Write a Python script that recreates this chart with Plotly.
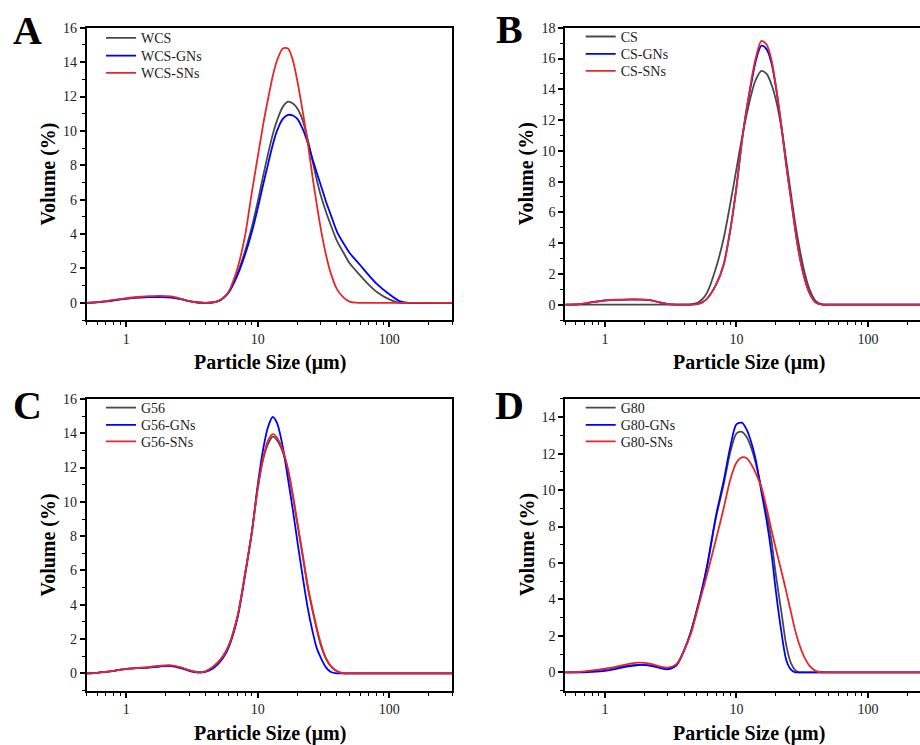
import math
import plotly.graph_objects as go

FONT = "Liberation Serif"

# Particle size grid (µm)
SIZE = [0.5, 0.6, 0.7, 0.8, 1.0, 1.2, 1.5, 1.8, 2.2, 2.6, 3.0, 3.5, 4.0, 4.5, 5.0, 5.5,
        6.0, 7.0, 8.0, 9.0, 10, 11, 12, 13, 14, 15.5, 17, 18.5, 20, 22, 24, 26, 28, 30,
        33, 36, 40, 45, 50, 60, 70, 80, 100, 120, 140, 200, 300]

# Panel A
A_WCS = [0, 0.04, 0.09, 0.15, 0.25, 0.31, 0.35, 0.36, 0.33, 0.22, 0.1, 0.02, 0, 0.02, 0.1, 0.3,
         0.6, 1.7, 3.0, 4.4, 5.9, 7.4, 8.7, 9.8, 10.6, 11.4, 11.7, 11.6, 11.3, 10.6, 9.5, 8.3, 7.2, 6.3,
         5.3, 4.5, 3.6, 2.9, 2.3, 1.6, 1.05, 0.65, 0.2, 0, 0, 0, 0]
A_WCS_GNs = [0, 0.03, 0.08, 0.14, 0.24, 0.3, 0.33, 0.34, 0.31, 0.21, 0.1, 0.02, 0, 0.02, 0.1, 0.3,
             0.6, 1.6, 2.8, 4.1, 5.5, 6.9, 8.1, 9.2, 10.0, 10.7, 10.93, 10.9, 10.7, 10.1, 9.3, 8.4, 7.6, 6.9,
             5.9, 5.1, 4.15, 3.45, 2.9, 2.2, 1.6, 1.12, 0.5, 0.1, 0, 0, 0]
A_WCS_SNs = [0, 0.04, 0.1, 0.17, 0.27, 0.34, 0.39, 0.41, 0.37, 0.24, 0.1, 0.02, 0, 0.02, 0.1, 0.3,
             0.65, 2.0, 3.9, 6.4, 8.5, 10.4, 11.9, 13.2, 14.1, 14.8, 14.8, 14.1, 12.9, 11.1, 9.3, 7.4, 5.8, 4.4,
             2.8, 1.7, 0.8, 0.3, 0.07, 0, 0, 0, 0, 0, 0, 0, 0]

# Panel B
B_CS = [0, 0, 0, 0, 0, 0, 0, 0, 0, 0, 0, 0, 0, 0.02, 0.1, 0.35,
        0.8, 2.4, 4.3, 6.6, 8.8, 10.8, 12.4, 13.7, 14.6, 15.2, 15.0, 14.3, 13.3, 11.5, 9.3, 7.2, 5.3, 3.8,
        2.1, 1.0, 0.25, 0.02, 0, 0, 0, 0, 0, 0, 0, 0, 0]
B_CS_GNs = [0, 0.01, 0.07, 0.16, 0.27, 0.31, 0.33, 0.33, 0.29, 0.15, 0.04, 0, 0, 0, 0.03, 0.15,
            0.4, 1.3, 2.6, 4.9, 7.6, 10.6, 12.8, 14.4, 15.8, 16.84, 16.6, 15.7, 14.1, 11.6, 9.0, 6.9, 4.9, 3.3,
            1.7, 0.75, 0.15, 0, 0, 0, 0, 0, 0, 0, 0, 0, 0]
B_CS_SNs = [0, 0.01, 0.08, 0.17, 0.28, 0.32, 0.34, 0.34, 0.3, 0.16, 0.04, 0, 0, 0, 0.03, 0.15,
            0.4, 1.3, 2.6, 4.9, 7.6, 10.6, 12.8, 14.6, 16.0, 17.15, 16.9, 15.9, 14.2, 11.6, 9.0, 6.9, 4.9, 3.3,
            1.7, 0.75, 0.15, 0, 0, 0, 0, 0, 0, 0, 0, 0, 0]

# Panel C
C_G56 = [0, 0.03, 0.09, 0.15, 0.26, 0.31, 0.36, 0.42, 0.44, 0.33, 0.18, 0.07, 0.12, 0.35, 0.65, 1.05,
         1.6, 3.3, 5.8, 8.2, 10.8, 12.5, 13.4, 13.8, 13.6, 12.9, 11.8, 10.3, 8.7, 6.8, 5.0, 3.7, 2.6, 1.7,
         0.85, 0.4, 0.12, 0, 0, 0, 0, 0, 0, 0, 0, 0, 0]
C_G56_GNs = [0, 0.03, 0.09, 0.15, 0.26, 0.3, 0.34, 0.4, 0.42, 0.3, 0.15, 0.05, 0.08, 0.25, 0.55, 0.95,
             1.5, 3.2, 5.7, 8.2, 11.0, 13.1, 14.4, 14.95, 14.6, 13.2, 11.3, 9.5, 7.7, 5.6, 3.8, 2.5, 1.5, 0.95,
             0.35, 0.08, 0, 0, 0, 0, 0, 0, 0, 0, 0, 0, 0]
C_G56_SNs = [0, 0.03, 0.09, 0.15, 0.26, 0.31, 0.37, 0.44, 0.47, 0.35, 0.19, 0.07, 0.12, 0.35, 0.65, 1.05,
             1.6, 3.3, 5.8, 8.2, 10.8, 12.6, 13.6, 13.95, 13.75, 13.0, 11.9, 10.4, 8.8, 6.9, 5.1, 3.8, 2.7, 1.8,
             0.9, 0.42, 0.13, 0, 0, 0, 0, 0, 0, 0, 0, 0, 0]

# Panel D
D_G80 = [0, 0, 0.02, 0.07, 0.17, 0.26, 0.36, 0.41, 0.38, 0.27, 0.2, 0.4, 1.2, 2.2, 3.4, 4.6,
         5.8, 8.5, 10.3, 12.1, 13.1, 13.2, 12.9, 12.3, 11.5, 10.1, 8.7, 7.2, 5.3, 3.3, 1.45, 0.5, 0.12, 0,
         0, 0, 0, 0, 0, 0, 0, 0, 0, 0, 0, 0, 0]
D_G80_GNs = [0, 0, 0, 0.02, 0.08, 0.18, 0.32, 0.4, 0.37, 0.24, 0.16, 0.38, 1.2, 2.2, 3.4, 4.6,
             5.9, 8.6, 10.5, 12.4, 13.6, 13.7, 13.3, 12.6, 11.7, 9.9, 8.3, 6.5, 4.4, 2.2, 0.65, 0.15, 0, 0,
             0, 0, 0, 0, 0, 0, 0, 0, 0, 0, 0, 0, 0]
D_G80_SNs = [0, 0.01, 0.05, 0.1, 0.2, 0.3, 0.45, 0.53, 0.48, 0.33, 0.26, 0.45, 1.2, 2.1, 3.3, 4.4,
             5.4, 7.3, 9.0, 10.6, 11.5, 11.8, 11.75, 11.4, 10.95, 10.15, 9.0, 7.8, 6.75, 5.55, 4.4, 3.3, 2.3, 1.55,
             0.8, 0.35, 0.08, 0, 0, 0, 0, 0, 0, 0, 0, 0, 0]

X_TICKS = [1, 10, 100]
X_MINOR = [0.5, 0.6, 0.7, 0.8, 0.9, 2, 3, 4, 5, 6, 7, 8, 9, 20, 30, 40, 50, 60, 70, 80, 90, 200, 300]

COLORS = ["#4a4a4a", "#0000ff", "#e8262a"]

W, H = 920, 745

panels = [
    dict(letter="A", names=["WCS", "WCS-GNs", "WCS-SNs"], data=[A_WCS, A_WCS_GNs, A_WCS_SNs],
         px=(86.7, 452), py=(21, 316), yr=[-1, 16], xmax=300, mirror_y=True,
         letter_pos=(27.5, 30), leg_x=108, leg_rows=(37, 55, 72.5)),
    dict(letter="B", names=["CS", "CS-GNs", "CS-SNs"], data=[B_CS, B_CS_GNs, B_CS_SNs],
         px=(565.3, 920), py=(21, 316), yr=[-1, 18], xmax=249, mirror_y=False,
         letter_pos=(509, 29), leg_x=587.7, leg_rows=(35.7, 53.3, 70.3)),
    dict(letter="C", names=["G56", "G56-GNs", "G56-SNs"], data=[C_G56, C_G56_GNs, C_G56_SNs],
         px=(86.7, 452), py=(395.7, 690), yr=[-1, 16], xmax=300, mirror_y=True,
         letter_pos=(27.5, 409), leg_x=108, leg_rows=(410.3, 427.7, 444.3)),
    dict(letter="D", names=["G80", "G80-GNs", "G80-SNs"], data=[D_G80, D_G80_GNs, D_G80_SNs],
         px=(565.3, 920), py=(395.7, 690), yr=[-1, 15], xmax=249, mirror_y=False,
         letter_pos=(509, 409), leg_x=587.7, leg_rows=(410.3, 427.7, 444.3)),
]

fig = go.Figure()
annotations = []
tickfont = dict(family=FONT, size=14, color="#222222")
legend_layouts = {}
leg_count = 0

for i, p in enumerate(panels):
    k = "" if i == 0 else str(i + 1)
    for name, vals, col, row_y in zip(p["names"], p["data"], COLORS, p["leg_rows"]):
        leg_count += 1
        leg = "legend" if leg_count == 1 else "legend%d" % leg_count
        fig.add_trace(go.Scatter(
            x=SIZE, y=vals, name=name, mode="lines",
            line=dict(color=col, width=1.8, shape="spline", smoothing=0.8),
            xaxis="x" + k, yaxis="y" + k, legend=leg, showlegend=True,
        ))
        legend_layouts[leg] = dict(
            x=(p["leg_x"] - 7) / W, y=1 - (row_y - 5.5) / H, xanchor="left", yanchor="middle",
            bgcolor="rgba(0,0,0,0)", font=dict(family=FONT, size=14, color="#222222"),
            tracegroupgap=0, itemwidth=30, borderwidth=0,
        )
    x0, x1 = p["px"]
    y0, y1 = p["py"]
    fig.layout["xaxis" + k] = dict(
        type="log", range=[math.log10(0.5), math.log10(p["xmax"])],
        domain=[x0 / W, x1 / W], anchor="y" + k,
        showline=True, linecolor="black", linewidth=2, mirror=True,
        ticks="outside", ticklen=5, tickwidth=1.5, tickcolor="black",
        tickmode="array", tickvals=X_TICKS, ticktext=[str(v) for v in X_TICKS],
        minor=dict(ticks="outside", ticklen=3, tickwidth=1.2, tickcolor="black",
                   tickmode="array", tickvals=X_MINOR, showgrid=False),
        showgrid=False, zeroline=False, tickfont=tickfont,
    )
    fig.layout["yaxis" + k] = dict(
        range=p["yr"], domain=[1 - y1 / H, 1 - y0 / H], anchor="x" + k,
        showline=True, linecolor="black", linewidth=2, mirror=p["mirror_y"],
        ticks="outside", ticklen=5, tickwidth=1.5, tickcolor="black",
        tick0=0, dtick=2,
        minor=dict(ticks="outside", ticklen=3, tickwidth=1.2, tickcolor="black", tick0=0, dtick=1,
                   showgrid=False),
        showgrid=False, zeroline=False, tickfont=tickfont,
    )
    lx, ly = p["letter_pos"]
    annotations.append(dict(
        text="<b>%s</b>" % p["letter"], x=lx / W, y=1 - (ly - 6.5) / H,
        xref="paper", yref="paper", xanchor="center", yanchor="middle", showarrow=False,
        font=dict(family=FONT, size=40, color="black"),
    ))
    full_right = x0 + 366.7
    annotations.append(dict(
        text="<b>Particle Size (μm)</b>", x=((x0 + full_right) / 2) / W, y=1 - (y1 + 43) / H,
        xref="paper", yref="paper", xanchor="center", yanchor="middle", showarrow=False,
        font=dict(family=FONT, size=20, color="black"),
    ))
    annotations.append(dict(
        text="<b>Volume (%)</b>", x=(x0 - 38) / W, y=1 - ((y0 + y1) / 2) / H,
        xref="paper", yref="paper", xanchor="center", yanchor="middle", showarrow=False,
        textangle=-90, font=dict(family=FONT, size=20, color="black"),
    ))

fig.update_layout(
    width=W, height=H, margin=dict(l=0, r=0, t=0, b=0),
    paper_bgcolor="white", plot_bgcolor="white",
    annotations=annotations,
    **legend_layouts,
)

fig.write_html("out.html")
